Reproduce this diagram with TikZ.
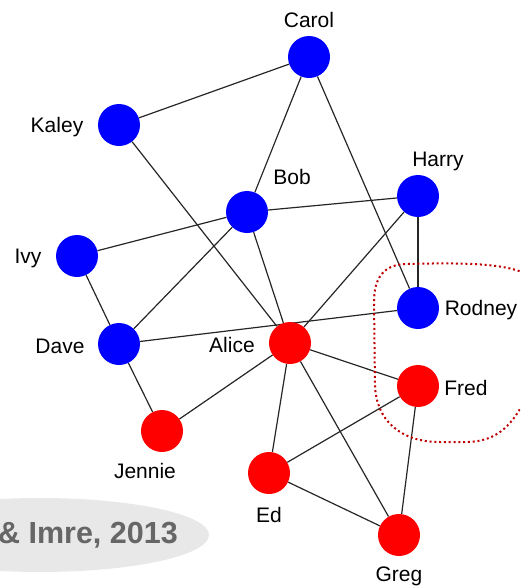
\documentclass[tikz,border=0pt]{standalone}
\usepackage{fontspec}
\setmainfont{Liberation Sans}
\usetikzlibrary{backgrounds}
\definecolor{nblue}{HTML}{0000FF}
\definecolor{nred}{HTML}{FF0000}
\definecolor{dotred}{HTML}{C00000}
\definecolor{ellgray}{HTML}{E8E8E8}
\definecolor{txtgray}{HTML}{666666}
\begin{document}
\begin{tikzpicture}[x=1pt,y=-1pt,
  vb/.style={circle,fill=nblue,minimum size=42pt,inner sep=0pt},
  vr/.style={circle,fill=nred,minimum size=42pt,inner sep=0pt},
  lbl/.style={inner sep=0pt,font=\fontsize{21}{25}\selectfont},
  edge/.style={draw=black!85,line width=1.2pt}]
\useasboundingbox (0,0) rectangle (520,587);
\clip (0,0) rectangle (520,587);
% gray ellipse with citation
\fill[ellgray] (40,535) ellipse [x radius=169, y radius=37];
\node[anchor=east,inner sep=0pt,text=txtgray,font=\fontsize{30.5}{36}\selectfont\bfseries] (cite) at (178,535) {\& Imre, 2013};
% nodes
\node[vb] (carol) at (309,57) {};
\node[vb] (kaley) at (119,125) {};
\node[vb] (bob) at (247,212) {};
\node[vb] (harry) at (418,196) {};
\node[vb] (ivy) at (77,256) {};
\node[vb] (rodney) at (418,308) {};
\node[vb] (dave) at (119,344) {};
\node[vr] (alice) at (290,343) {};
\node[vr] (fred) at (418,386) {};
\node[vr] (jennie) at (162,431) {};
\node[vr] (ed) at (269,473) {};
\node[vr] (greg) at (399,535) {};
% labels
\node[lbl] (lcarol) at (309,20) {Carol};
\node[lbl] (lkaley) at (57,127) {Kaley};
\node[lbl] (lbob) at (292,177) {Bob};
\node[lbl] (lharry) at (438,161) {Harry};
\node[lbl] (livy) at (28,258) {Ivy};
\node[lbl] (lrodney) at (481,310) {Rodney};
\node[lbl] (ldave) at (60,346) {Dave};
\node[lbl] (lalice) at (232,345) {Alice};
\node[lbl] (lfred) at (466,388) {Fred};
\node[lbl] (ljennie) at (145,471) {Jennie};
\node[lbl] (led) at (269,515) {Ed};
\node[lbl] (lgreg) at (399,576) {Greg};
% edges
\begin{pgfonlayer}{background}
\path[edge] (carol) -- (kaley);
\path[edge] (carol) -- (bob);
\path[edge] (carol) -- (rodney);
\path[edge] (kaley) -- (alice);
\path[edge] (bob) -- (ivy);
\path[edge] (bob) -- (harry);
\path[edge] (bob) -- (dave);
\path[edge] (bob) -- (alice);
\path[edge] (harry) -- (rodney);
\path[edge] (harry) -- (alice);
\path[edge] (ivy) -- (dave);
\path[edge] (dave) -- (rodney);
\path[edge] (dave) -- (jennie);
\path[edge] (alice) -- (jennie);
\path[edge] (alice) -- (fred);
\path[edge] (alice) -- (ed);
\path[edge] (alice) -- (greg);
\path[edge] (fred) -- (ed);
\path[edge] (fred) -- (greg);
\path[edge] (ed) -- (greg);
\end{pgfonlayer}
% dotted red outline
\draw[dotred,line width=2pt,dash pattern=on 2pt off 2.8pt]
  (524,273) .. controls (500,262) and (450,263) .. (405,264)
  .. controls (382,265) and (374,280) .. (374,302)
  -- (375,385) .. controls (376,420) and (400,442) .. (440,442)
  -- (468,442) .. controls (495,441) and (510,428) .. (524,402);
\end{tikzpicture}
\end{document}
